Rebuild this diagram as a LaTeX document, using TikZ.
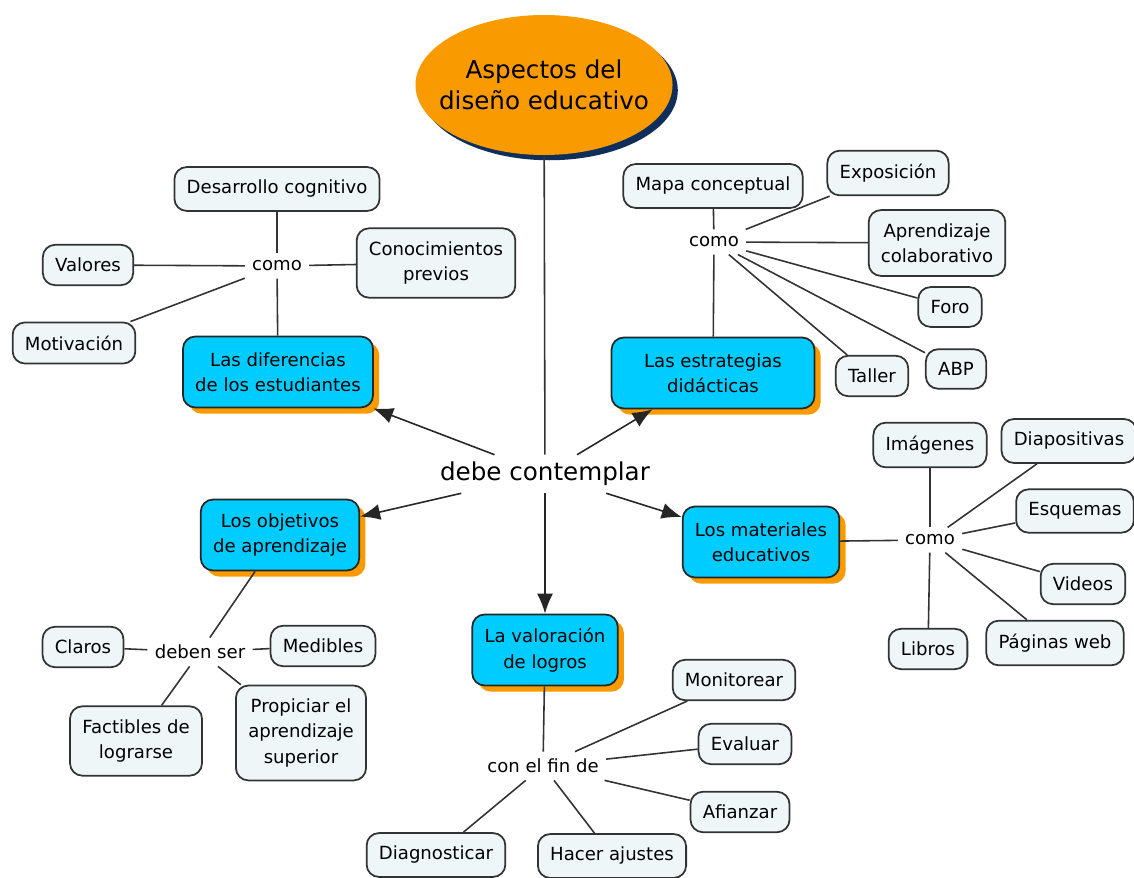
\documentclass[tikz,border=0pt]{standalone}
\usepackage{fontspec}
\setmainfont{DejaVu Sans}
\usetikzlibrary{arrows.meta,positioning,shapes.geometric,shadows}
\definecolor{mapblue}{HTML}{00CCFF}
\definecolor{maporange}{HTML}{F99B00}
\definecolor{mapnavy}{HTML}{0F2F5A}
\definecolor{mappale}{HTML}{EEF6F8}
\definecolor{mapedge}{HTML}{333333}

\begin{document}
\begin{tikzpicture}[
    x=0.02cm, y=-0.02cm,
    font=\fontsize{10.3}{14.5}\selectfont,
    title/.style={ellipse, fill=maporange, inner xsep=-8pt, inner ysep=0pt, minimum width=5.14cm, minimum height=2.8cm, align=center, font=\fontsize{14}{18}\selectfont, drop shadow={shadow xshift=3pt, shadow yshift=-3pt, fill=mapnavy, opacity=1}},
    concept/.style={draw=mapedge, line width=1pt, rounded corners=7pt, fill=mappale, align=center, inner xsep=7pt, inner ysep=7.5pt},
    topic/.style={concept, fill=mapblue, draw=black!85, minimum height=1.42cm, drop shadow={shadow xshift=3.5pt, shadow yshift=-3.5pt, fill=maporange, opacity=1}},
    linkword/.style={inner sep=4pt},
    link/.style={draw=black!80, line width=0.9pt},
    arrow/.style={-{Latex[length=4mm, width=3.2mm]}, line width=0.9pt, draw=black!85}
]
\useasboundingbox (0,0) rectangle (1134,878);

\node[title] (aspectos) at (544,85) {Aspectos del\\diseño educativo};
\node[linkword, font=\fontsize{14}{18}\selectfont] (debe) at (545,474) {debe contemplar};

\node[topic] (diferencias) at (278,372) {Las diferencias\\de los estudiantes};
\node[topic, minimum width=4.06cm] (estrategias) at (713,373) {Las estrategias\\didácticas};
\node[topic] (objetivos) at (280,535) {Los objetivos\\de aprendizaje};
\node[topic] (materiales) at (761,542) {Los materiales\\educativos};
\node[topic] (valoracion) at (545,650) {La valoración\\de logros};

\node[linkword] (como1) at (277,266) {como};
\node[concept] (desarrollo) at (277,189) {Desarrollo cognitivo};
\node[concept] (valores) at (88,265) {Valores};
\node[concept] (conocimientos) at (436,263) {Conocimientos\\previos};
\node[concept] (motivacion) at (74,343) {Motivación};

\node[linkword] (como2) at (714,242) {como};
\node[concept] (mapa) at (713,186) {Mapa conceptual};
\node[concept] (exposicion) at (888,173) {Exposición};
\node[concept] (colaborativo) at (937,243) {Aprendizaje\\colaborativo};
\node[concept] (foro) at (950,307) {Foro};
\node[concept] (taller) at (872,376) {Taller};
\node[concept] (abp) at (956,369) {ABP};

\node[linkword] (como3) at (930,540) {como};
\node[concept] (imagenes) at (930,445) {Imágenes};
\node[concept] (diapositivas) at (1069,441) {Diapositivas};
\node[concept] (esquemas) at (1075,511) {Esquemas};
\node[concept] (videos) at (1083,584) {Videos};
\node[concept] (paginas) at (1055,643) {Páginas web};
\node[concept] (libros) at (928,649) {Libros};

\node[linkword] (debenser) at (200,652) {deben ser};
\node[concept] (claros) at (83,647) {Claros};
\node[concept] (medibles) at (323,646) {Medibles};
\node[concept] (factibles) at (136,741) {Factibles de\\lograrse};
\node[concept] (propiciar) at (301,733) {Propiciar el\\aprendizaje\\superior};

\node[linkword] (finde) at (543,766) {con el fin de};
\node[concept] (monitorear) at (734,680) {Monitorear};
\node[concept] (evaluar) at (745,744) {Evaluar};
\node[concept] (afianzar) at (740,812) {Afianzar};
\node[concept] (diagnosticar) at (436,855) {Diagnosticar};
\node[concept] (ajustes) at (612,856) {Hacer ajustes};

\draw[link] (aspectos) -- (debe);
\draw[arrow] (debe) -- (diferencias);
\draw[arrow] (debe) -- (estrategias);
\draw[arrow] (debe) -- (objetivos);
\draw[arrow] (debe) -- (materiales);
\draw[arrow] (debe) -- (valoracion);

\draw[link] (diferencias) -- (como1);
\draw[link] (como1) -- (desarrollo);
\draw[link] (como1) -- (valores);
\draw[link] (como1) -- (conocimientos);
\draw[link] (como1) -- (motivacion);

\draw[link] (estrategias) -- (como2);
\draw[link] (como2) -- (mapa);
\draw[link] (como2) -- (exposicion);
\draw[link] (como2) -- (colaborativo);
\draw[link] (como2) -- (foro);
\draw[link] (como2) -- (taller);
\draw[link] (como2) -- (abp);

\draw[link] (materiales) -- (como3);
\draw[link] (como3) -- (imagenes);
\draw[link] (como3) -- (diapositivas);
\draw[link] (como3) -- (esquemas);
\draw[link] (como3) -- (videos);
\draw[link] (como3) -- (paginas);
\draw[link] (como3) -- (libros);

\draw[link] (objetivos) -- (debenser);
\draw[link] (debenser) -- (claros);
\draw[link] (debenser) -- (medibles);
\draw[link] (debenser) -- (factibles);
\draw[link] (debenser) -- (propiciar);

\draw[link] (valoracion) -- (finde);
\draw[link] (finde) -- (monitorear);
\draw[link] (finde) -- (evaluar);
\draw[link] (finde) -- (afianzar);
\draw[link] (finde) -- (diagnosticar);
\draw[link] (finde) -- (ajustes);
\end{tikzpicture}
\end{document}
